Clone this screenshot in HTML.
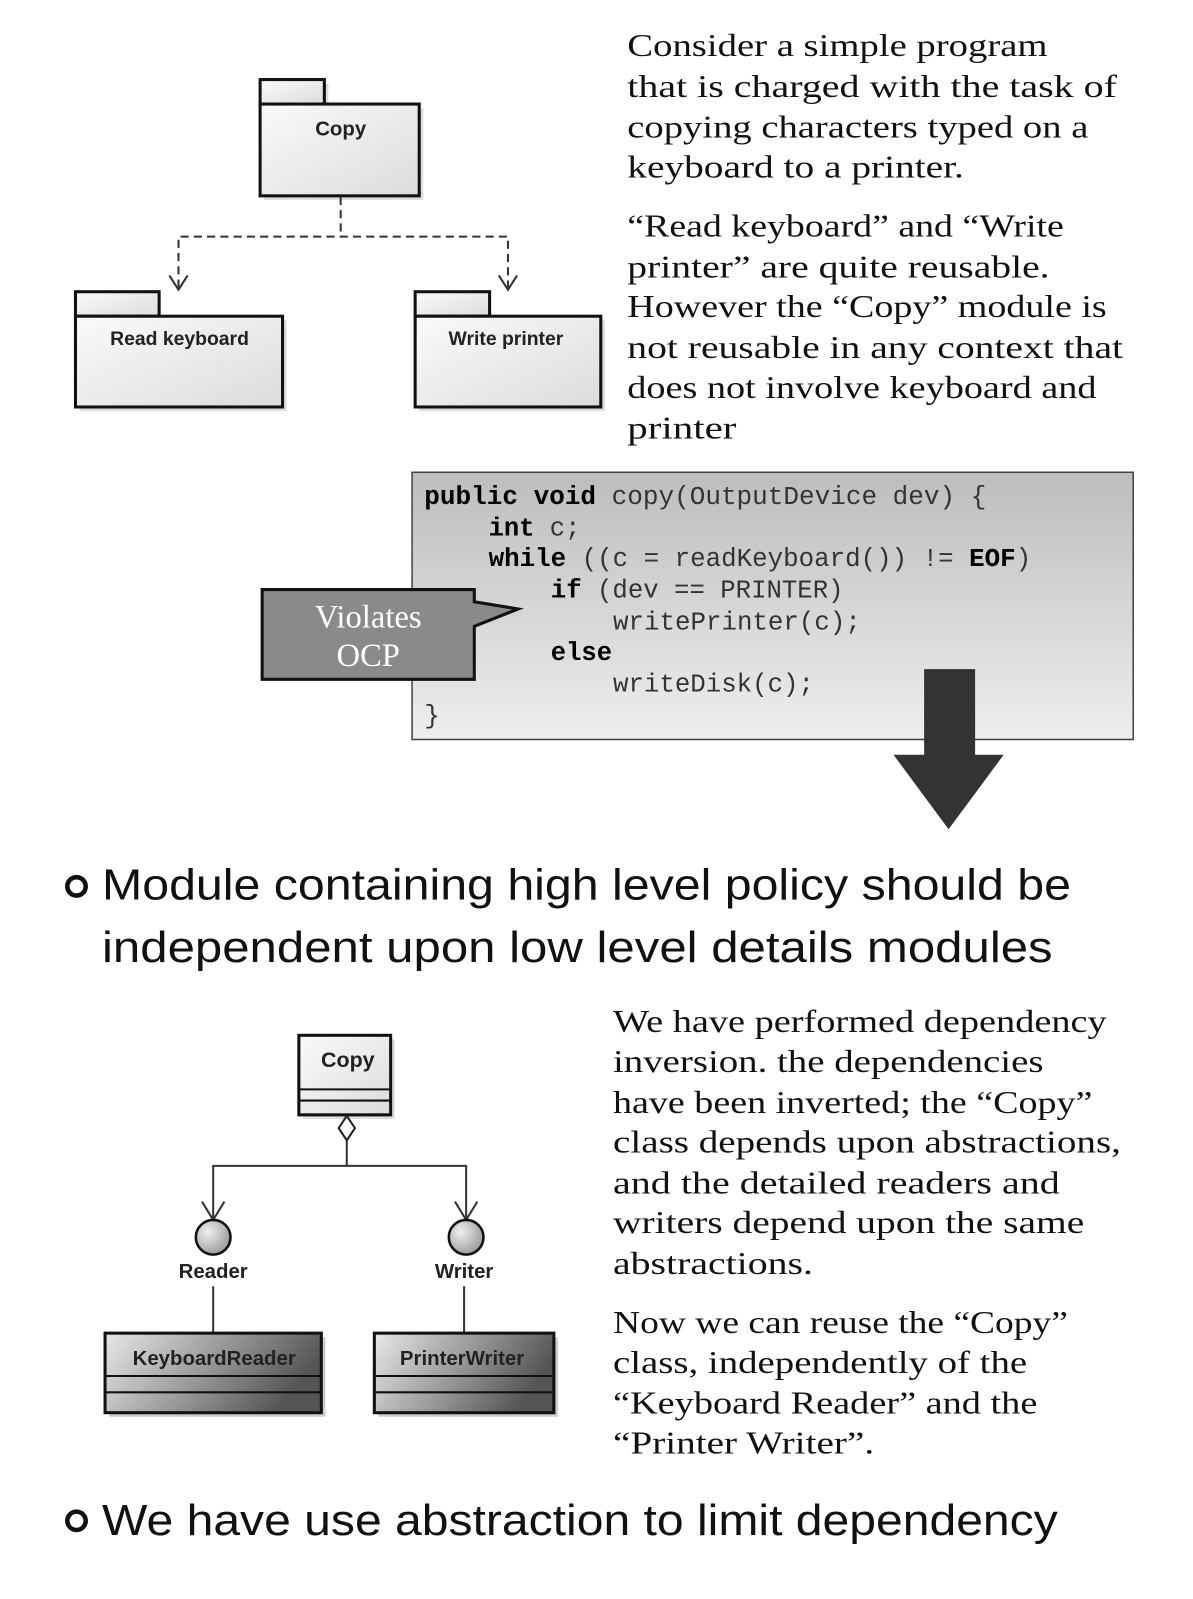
<!DOCTYPE html>
<html><head><meta charset="utf-8"><style>
html,body{margin:0;padding:0;background:#fff;}
svg{display:block;}
.s{font-family:"Liberation Serif",serif;font-size:31px;fill:#111;}
.m{font-family:"Liberation Mono",monospace;font-size:25px;fill:#333;}
.mb{font-weight:bold;fill:#000;}
.u{font-family:"Liberation Sans",sans-serif;font-weight:bold;fill:#222;}
.b{font-family:"Liberation Sans",sans-serif;font-size:43px;fill:#111;}
</style></head><body>
<svg width="1193" height="1599" viewBox="0 0 1193 1599" xmlns="http://www.w3.org/2000/svg">
<defs>
<linearGradient id="pk" x1="0" y1="0" x2="1" y2="1"><stop offset="0" stop-color="#fafafa"/><stop offset="1" stop-color="#dcdcdc"/></linearGradient>
<linearGradient id="cb" x1="0" y1="0" x2="0" y2="1"><stop offset="0" stop-color="#bdbdbd"/><stop offset="1" stop-color="#eeeeee"/></linearGradient>
<linearGradient id="dk" x1="0" y1="0" x2="1" y2="0.3"><stop offset="0" stop-color="#e8e8e8"/><stop offset="1" stop-color="#555"/></linearGradient>
<radialGradient id="ci" cx="0.35" cy="0.35" r="0.7"><stop offset="0" stop-color="#f0f0f0"/><stop offset="1" stop-color="#999"/></radialGradient>
</defs>
<g transform="scale(1.02)">
<!-- top packages -->
<g stroke="#111" stroke-width="3">
<rect x="259" y="82" width="63" height="24" fill="#ddd" stroke="none"/>
<rect x="259" y="106" width="156" height="90" fill="#ddd" stroke="none"/>
<rect x="255" y="78" width="63" height="24" fill="url(#pk)"/>
<rect x="255" y="102" width="156" height="90" fill="url(#pk)"/>
<rect x="78" y="314" width="203" height="89" fill="#ddd" stroke="none"/>
<rect x="74" y="286" width="82" height="24" fill="url(#pk)"/>
<rect x="74" y="310" width="203" height="89" fill="url(#pk)"/>
<rect x="411" y="314" width="182" height="89" fill="#ddd" stroke="none"/>
<rect x="407" y="286" width="73" height="24" fill="url(#pk)"/>
<rect x="407" y="310" width="182" height="89" fill="url(#pk)"/>
</g>
<text class="u" x="334" y="133" font-size="20" text-anchor="middle">Copy</text>
<text class="u" x="176" y="338" font-size="19" text-anchor="middle">Read keyboard</text>
<text class="u" x="496" y="338" font-size="19" text-anchor="middle">Write printer</text>
<g stroke="#333" stroke-width="2" fill="none" stroke-dasharray="8,5">
<path d="M334 193 V232 M175 282 V232 H498 V282"/>
</g>
<g stroke="#333" stroke-width="2" fill="none">
<path d="M166 270 L175 284 L184 270 M489 270 L498 284 L507 270"/>
</g>

<!-- top right text -->
<g class="s">
<text x="615" y="55" textLength="412" lengthAdjust="spacingAndGlyphs">Consider a simple program</text>
<text x="615" y="95" textLength="480" lengthAdjust="spacingAndGlyphs">that is charged with the task of</text>
<text x="615" y="135" textLength="452" lengthAdjust="spacingAndGlyphs">copying characters typed on a</text>
<text x="615" y="174" textLength="330" lengthAdjust="spacingAndGlyphs">keyboard to a printer.</text>
<text x="615" y="232" textLength="428" lengthAdjust="spacingAndGlyphs">“Read keyboard” and “Write</text>
<text x="615" y="272" textLength="414" lengthAdjust="spacingAndGlyphs">printer” are quite reusable.</text>
<text x="615" y="311" textLength="470" lengthAdjust="spacingAndGlyphs">However  the “Copy” module is</text>
<text x="615" y="351" textLength="486" lengthAdjust="spacingAndGlyphs">not reusable in any context that</text>
<text x="615" y="390" textLength="460" lengthAdjust="spacingAndGlyphs">does not involve keyboard and</text>
<text x="615" y="430" textLength="107" lengthAdjust="spacingAndGlyphs">printer</text>
</g>

<!-- code box -->
<rect x="404" y="463" width="707" height="262" fill="url(#cb)" stroke="#444" stroke-width="1.5"/>
<g class="m">
<text x="416" y="494" textLength="551" lengthAdjust="spacingAndGlyphs"><tspan class="mb">public void</tspan> copy(OutputDevice dev) {</text>
<text x="479" y="525"><tspan class="mb">int</tspan> c;</text>
<text x="479" y="555" textLength="532" lengthAdjust="spacingAndGlyphs"><tspan class="mb">while</tspan> ((c = readKeyboard()) != <tspan class="mb">EOF</tspan>)</text>
<text x="540" y="586" textLength="287" lengthAdjust="spacingAndGlyphs"><tspan class="mb">if</tspan> (dev == PRINTER)</text>
<text x="601" y="617" textLength="243" lengthAdjust="spacingAndGlyphs">writePrinter(c);</text>
<text x="540" y="647" class="mb">else</text>
<text x="601" y="678" textLength="197" lengthAdjust="spacingAndGlyphs">writeDisk(c);</text>
<text x="416" y="709">}</text>
</g>

<!-- callout -->
<path d="M257 578 H465 V590 L508 597 L465 614 V666 H257 Z" fill="#8a8a8a" stroke="#111" stroke-width="3"/>
<text x="361" y="615" text-anchor="middle" font-family="Liberation Serif,serif" font-size="32" fill="#fff">Violates</text>
<text x="361" y="653" text-anchor="middle" font-family="Liberation Serif,serif" font-size="32" fill="#fff">OCP</text>

<!-- big arrow -->
<path d="M906 656 H956 V740 H984 L930 813 L876 740 H906 Z" fill="#333"/>

<!-- bullets -->
<circle cx="75" cy="869" r="9" fill="none" stroke="#111" stroke-width="4.5"/>
<text class="b" x="100" y="882" textLength="950" lengthAdjust="spacingAndGlyphs">Module containing high level policy should be</text>
<text class="b" x="100" y="943" textLength="932" lengthAdjust="spacingAndGlyphs">independent  upon low level details modules</text>
<circle cx="75" cy="1491" r="9" fill="none" stroke="#111" stroke-width="4.5"/>
<text class="b" x="100" y="1505" textLength="937" lengthAdjust="spacingAndGlyphs">We have use abstraction to limit dependency</text>

<!-- bottom diagram -->
<rect x="297" y="1019" width="90" height="78" fill="#ddd"/>
<rect x="293" y="1015" width="90" height="78" fill="url(#pk)" stroke="#111" stroke-width="3"/>
<line x1="293" y1="1068" x2="383" y2="1068" stroke="#111" stroke-width="2"/>
<line x1="293" y1="1079" x2="383" y2="1079" stroke="#111" stroke-width="2"/>
<text class="u" x="341" y="1046" font-size="21" text-anchor="middle">Copy</text>
<path d="M340 1094 L348 1106 L340 1118 L332 1106 Z" fill="#fff" stroke="#222" stroke-width="2"/>
<path d="M340 1118 V1143 M209 1195 V1143 H457 V1195" fill="none" stroke="#333" stroke-width="2"/>
<path d="M198 1178 L209 1196 L220 1178 M446 1178 L457 1196 L468 1178" fill="none" stroke="#333" stroke-width="2"/>
<circle cx="209" cy="1213" r="17" fill="url(#ci)" stroke="#111" stroke-width="2.5"/>
<circle cx="457" cy="1213" r="17" fill="url(#ci)" stroke="#111" stroke-width="2.5"/>
<text class="u" x="209" y="1253" font-size="20" text-anchor="middle">Reader</text>
<text class="u" x="455" y="1253" font-size="20" text-anchor="middle">Writer</text>
<path d="M209 1261 V1307 M455 1261 V1307" stroke="#333" stroke-width="2"/>
<rect x="107" y="1311" width="212" height="78" fill="#ccc"/>
<rect x="103" y="1307" width="212" height="78" fill="url(#dk)" stroke="#111" stroke-width="3"/>
<line x1="103" y1="1349" x2="315" y2="1349" stroke="#111" stroke-width="2"/>
<line x1="103" y1="1365" x2="315" y2="1365" stroke="#111" stroke-width="2"/>
<text class="u" x="210" y="1338" font-size="20" text-anchor="middle">KeyboardReader</text>
<rect x="371" y="1311" width="176" height="78" fill="#ccc"/>
<rect x="367" y="1307" width="176" height="78" fill="url(#dk)" stroke="#111" stroke-width="3"/>
<line x1="367" y1="1349" x2="543" y2="1349" stroke="#111" stroke-width="2"/>
<line x1="367" y1="1365" x2="543" y2="1365" stroke="#111" stroke-width="2"/>
<text class="u" x="453" y="1338" font-size="20" text-anchor="middle">PrinterWriter</text>

<!-- bottom right text -->
<g class="s">
<text x="601" y="1012" textLength="484" lengthAdjust="spacingAndGlyphs">We have performed dependency</text>
<text x="601" y="1051" textLength="422" lengthAdjust="spacingAndGlyphs">inversion. the dependencies</text>
<text x="601" y="1091" textLength="470" lengthAdjust="spacingAndGlyphs">have been inverted; the “Copy”</text>
<text x="601" y="1130" textLength="498" lengthAdjust="spacingAndGlyphs">class depends upon abstractions,</text>
<text x="601" y="1170" textLength="438" lengthAdjust="spacingAndGlyphs">and the detailed readers and</text>
<text x="601" y="1209" textLength="462" lengthAdjust="spacingAndGlyphs">writers depend upon the same</text>
<text x="601" y="1249" textLength="196" lengthAdjust="spacingAndGlyphs">abstractions.</text>
<text x="601" y="1307" textLength="446" lengthAdjust="spacingAndGlyphs">Now we can reuse the “Copy”</text>
<text x="601" y="1346" textLength="406" lengthAdjust="spacingAndGlyphs">class, independently of the</text>
<text x="601" y="1386" textLength="416" lengthAdjust="spacingAndGlyphs">“Keyboard Reader” and the</text>
<text x="601" y="1425" textLength="256" lengthAdjust="spacingAndGlyphs">“Printer Writer”.</text>
</g>
</g>
</svg>
</body></html>
